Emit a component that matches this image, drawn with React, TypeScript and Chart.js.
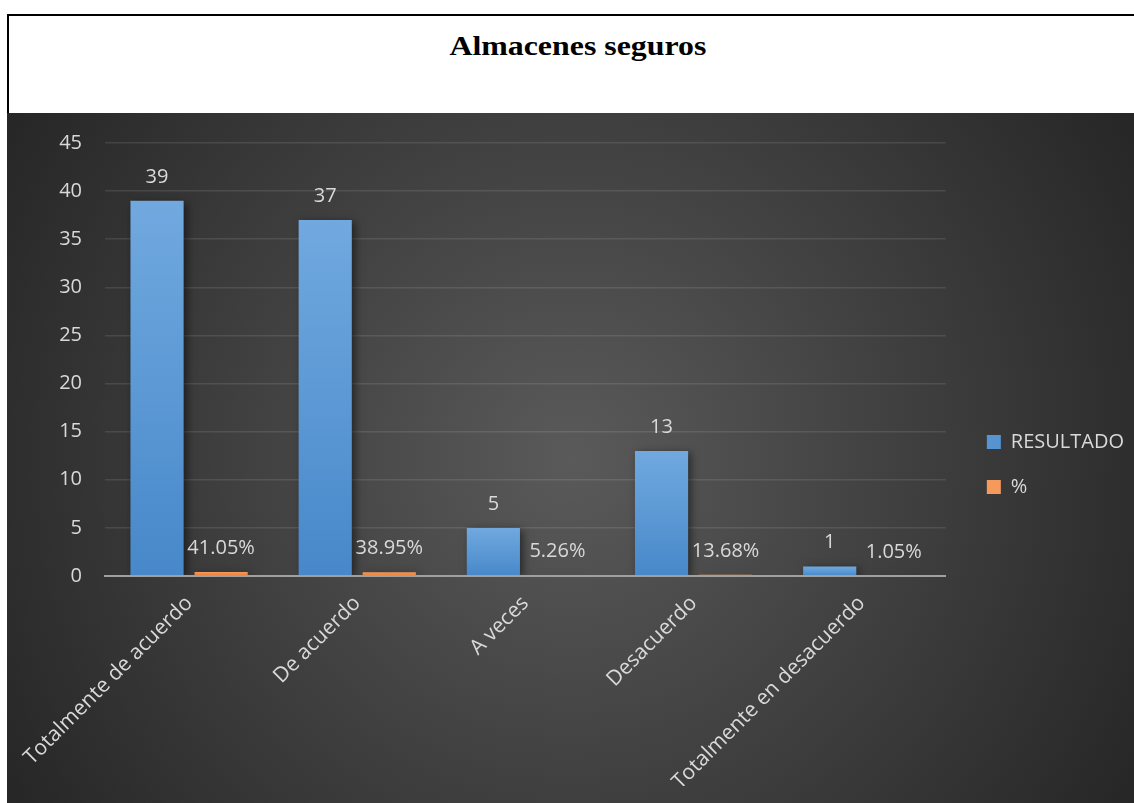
import React, { useEffect, useRef } from 'react';
import { Chart, registerables } from 'chart.js';

Chart.register(...registerables);

const chartTitle = 'Almacenes seguros';
const categories = ['Totalmente de acuerdo', 'De acuerdo', 'A veces', 'Desacuerdo', 'Totalmente en desacuerdo'];
const seriesNames = ['RESULTADO', '%'];
const resultado = [39, 37, 5, 13, 1];
const porcentaje = [0.4105, 0.3895, 0.0526, 0.1368, 0.0105];
const yMin = 0;
const yMax = 45;
const yStep = 5;

const FONT = '"Open Sans", "Noto Sans", sans-serif';
const TEXT = '#D9D9D9';

function barGradient(top: string, bottom: string, solid: string) {
  return (c: any) => {
    const chart = c.chart;
    const y = chart.scales && chart.scales.y;
    if (c.type !== 'data' || !y || c.raw == null) return solid;
    const t = y.getPixelForValue(c.raw);
    const b = y.getPixelForValue(0);
    if (!isFinite(t) || !isFinite(b) || Math.abs(b - t) < 0.5) return solid;
    const g = chart.ctx.createLinearGradient(0, t, 0, b);
    g.addColorStop(0, top);
    g.addColorStop(1, bottom);
    return g;
  };
}

const valueLabels = {
  id: 'valueLabels',
  beforeDatasetsDraw(chart: any) {
    const c = chart.ctx;
    c.save();
    c.shadowColor = 'rgba(0,0,0,0.5)';
    c.shadowBlur = 8;
    c.shadowOffsetX = 3;
    c.shadowOffsetY = 2;
  },
  afterDatasetsDraw(chart: any) {
    const c = chart.ctx;
    c.restore();
    c.save();
    c.font = `20px ${FONT}`;
    c.fillStyle = TEXT;
    c.textAlign = 'center';
    c.textBaseline = 'alphabetic';
    chart.data.datasets.forEach((ds: any, i: number) => {
      const meta = chart.getDatasetMeta(i);
      meta.data.forEach((el: any, j: number) => {
        const v = ds.data[j];
        const txt = i === 0 ? String(v) : (v * 100).toFixed(2) + '%';
        c.fillText(txt, el.x, el.y - 18);
      });
    });
    c.restore();
  },
};

export default function App() {
  const ref = useRef<HTMLCanvasElement | null>(null);

  useEffect(() => {
    if (!ref.current) return;
    const chart = new Chart(ref.current, {
      type: 'bar',
      data: {
        labels: categories,
        datasets: [
          {
            label: seriesNames[0],
            data: resultado,
            backgroundColor: barGradient('#71A9DF', '#4788CA', '#5B9BD5'),
            borderWidth: 0,
            categoryPercentage: 0.762,
            barPercentage: 0.83,
          },
          {
            label: seriesNames[1],
            data: porcentaje,
            backgroundColor: barGradient('#F59A5C', '#EC7A2E', '#ED7D31'),
            borderWidth: 0,
            categoryPercentage: 0.762,
            barPercentage: 0.83,
          },
        ],
      },
      options: {
        animation: false,
        responsive: false,
        layout: { padding: { top: 30, bottom: 17, left: 0, right: 0 } },
        plugins: {
          title: { display: false },
          tooltip: { enabled: false },
          legend: {
            position: 'right',
            align: 'center',
            labels: {
              color: TEXT,
              font: { family: FONT, size: 20 },
              boxWidth: 14,
              boxHeight: 14,
              padding: 25,
            },
          },
        },
        scales: {
          x: {
            grid: { display: false, drawTicks: false },
            border: { display: true, color: '#A0A0A0', width: 2, z: 1 },
            ticks: {
              color: TEXT,
              font: { family: FONT, size: 21 },
              minRotation: 45,
              maxRotation: 45,
              autoSkip: false,
              padding: 15,
              labelOffset: 0,
            },
            afterFit: (s: any) => {
              s.height = 210;
              s.paddingLeft = 0;
              s.paddingRight = 0;
            },
          },
          y: {
            min: yMin,
            max: yMax,
            grid: { color: 'rgba(255,255,255,0.1)', lineWidth: 1.5, drawTicks: false },
            border: { display: false },
            ticks: {
              stepSize: yStep,
              color: TEXT,
              font: { family: FONT, size: 20 },
              padding: 23,
            },
            afterFit: (s: any) => {
              s.width = 98;
              s.paddingTop = 12;
              s.paddingBottom = 12;
            },
          },
          yRight: {
            type: 'linear',
            position: 'right',
            display: true,
            grid: { display: false, drawTicks: false },
            border: { display: false },
            ticks: { display: false },
            afterFit: (s: any) => {
              s.width = 16;
              s.paddingTop = 0;
              s.paddingBottom = 0;
            },
          },
        },
      },
      plugins: [valueLabels],
    } as any);
    return () => chart.destroy();
  }, []);

  return (
    <div
      style={{
        position: 'absolute',
        left: 0,
        top: 0,
        width: 1134,
        height: 803,
        overflow: 'hidden',
        background: '#FFFFFF',
      }}
    >
      <div
        style={{
          position: 'absolute',
          left: 7,
          top: 14,
          width: 1127,
          height: 99,
          boxSizing: 'border-box',
          borderTop: '2px solid #000',
          borderLeft: '2px solid #000',
          background: '#FFFFFF',
          textAlign: 'center',
          paddingLeft: 12,
        }}
      >
        <div
          style={{
            display: 'inline-block',
            marginTop: 15,
            fontFamily: '"Liberation Serif", "Times New Roman", serif',
            fontWeight: 'bold',
            fontSize: 27,
            lineHeight: '30px',
            color: '#000',
            transform: 'scaleX(1.18)',
          }}
        >
          {chartTitle}
        </div>
      </div>
      <div
        style={{
          position: 'absolute',
          left: 7,
          top: 113,
          width: 1127,
          height: 690,
          background: 'radial-gradient(circle farthest-corner at 50% 50%, #5A5A5A 0%, #262626 100%)',
        }}
      >
        <canvas ref={ref} width={1127} height={690} style={{ display: 'block' }} />
      </div>
    </div>
  );
}
